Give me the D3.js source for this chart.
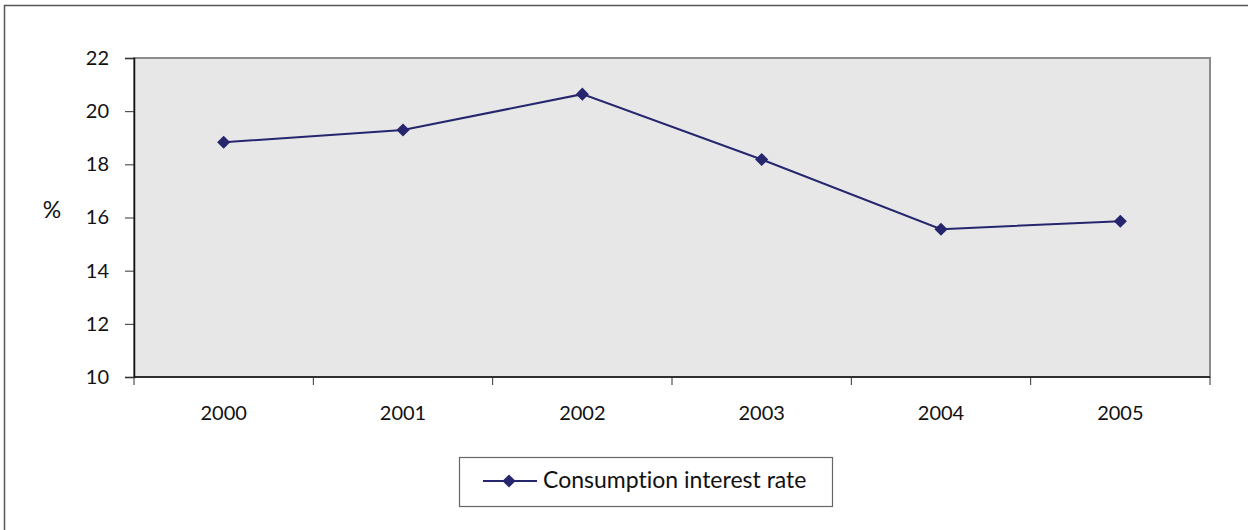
<!DOCTYPE html>
<html>
<head>
<meta charset="utf-8">
<script src="https://cdn.jsdelivr.net/npm/d3@7"></script>
<style>
  body { margin: 0; background: #fff; }
  svg { display: block; font-family: Lato, "Open Sans", sans-serif; font-variant-ligatures: none; }
</style>
</head>
<body>
<svg id="chart" width="1248" height="530"></svg>
<script>
// data
const years = ["2000", "2001", "2002", "2003", "2004", "2005"];
const rates = [18.83, 19.29, 20.64, 18.18, 15.56, 15.86];
const yTicks = [10, 12, 14, 16, 18, 20, 22];
const seriesName = "Consumption interest rate";

const width = 1248, height = 530;
const plot = {left: 134, top: 58, right: 1210, bottom: 377};
const lineColor = "#26266f";

const svg = d3.select("#chart");

// outer frame
svg.append("rect")
    .attr("x", 4.5).attr("y", 5.5)
    .attr("width", width + 10).attr("height", height + 10)
    .attr("fill", "none")
    .attr("stroke", "#555")
    .attr("stroke-width", 1.5);

const x = d3.scaleBand()
    .domain(years)
    .range([plot.left, plot.right]);

const y = d3.scaleLinear()
    .domain([10, 22])
    .range([plot.bottom, plot.top]);

// plot area
svg.append("rect")
    .attr("x", plot.left).attr("y", plot.top)
    .attr("width", plot.right - plot.left)
    .attr("height", plot.bottom - plot.top)
    .attr("fill", "#e7e7e7")
    .attr("stroke", "#8c8c8c")
    .attr("stroke-width", 2);

// y axis
const yAxis = svg.append("g")
    .attr("transform", `translate(${plot.left},0)`)
    .call(d3.axisLeft(y).tickValues(yTicks).tickSize(9).tickPadding(16));
yAxis.attr("font-family", null).attr("font-size", null);
yAxis.select(".domain").attr("stroke", "#111").attr("stroke-width", 1.5);
yAxis.selectAll(".tick line").attr("stroke", "#333");
yAxis.selectAll("text")
    .style("font-size", "20px")
    .attr("fill", "#111");

// x axis: ticks at band edges, labels in band centres
const xAxis = svg.append("g")
    .attr("transform", `translate(0,${plot.bottom})`);
xAxis.append("line")
    .attr("x1", plot.left).attr("x2", plot.right)
    .attr("stroke", "#111").attr("stroke-width", 1.5);
const edges = years.map(d => x(d)).concat([x(years[years.length - 1]) + x.bandwidth()]);
xAxis.selectAll(".edge")
    .data(edges)
    .join("line")
    .attr("class", "edge")
    .attr("x1", d => d).attr("x2", d => d)
    .attr("y1", 0).attr("y2", 8)
    .attr("stroke", "#333");
xAxis.selectAll(".lbl")
    .data(years)
    .join("text")
    .attr("class", "lbl")
    .attr("x", d => x(d) + x.bandwidth() / 2)
    .attr("y", 43)
    .attr("text-anchor", "middle")
    .style("font-size", "20px")
    .attr("fill", "#111")
    .text(d => d);

// y title
svg.append("text")
    .attr("x", 52).attr("y", 218)
    .attr("text-anchor", "middle")
    .style("font-size", "23px")
    .attr("fill", "#111")
    .text("%");

// line and markers
const cx = d => x(d) + x.bandwidth() / 2;
const line = d3.line()
    .x((d, i) => cx(years[i]))
    .y(d => y(d));

svg.append("path")
    .datum(rates)
    .attr("d", line)
    .attr("fill", "none")
    .attr("stroke", lineColor)
    .attr("stroke-width", 2);

const diamond = d3.symbol().type(d3.symbolDiamond2).size(110);
svg.selectAll(".pt")
    .data(rates)
    .join("path")
    .attr("class", "pt")
    .attr("d", diamond)
    .attr("transform", (d, i) => `translate(${cx(years[i])},${y(d)})`)
    .attr("fill", lineColor);

// legend
const legend = svg.append("g");
legend.append("rect")
    .attr("x", 459.5).attr("y", 457.5)
    .attr("width", 373).attr("height", 49)
    .attr("fill", "#fff")
    .attr("stroke", "#666")
    .attr("stroke-width", 1.2);
legend.append("line")
    .attr("x1", 483).attr("x2", 537)
    .attr("y1", 481).attr("y2", 481)
    .attr("stroke", lineColor).attr("stroke-width", 2);
legend.append("path")
    .attr("d", diamond)
    .attr("transform", "translate(509,481)")
    .attr("fill", lineColor);
legend.append("text")
    .attr("x", 543).attr("y", 488)
    .style("font-size", "23px")
    .attr("fill", "#111")
    .text(seriesName);
</script>
</body>
</html>
